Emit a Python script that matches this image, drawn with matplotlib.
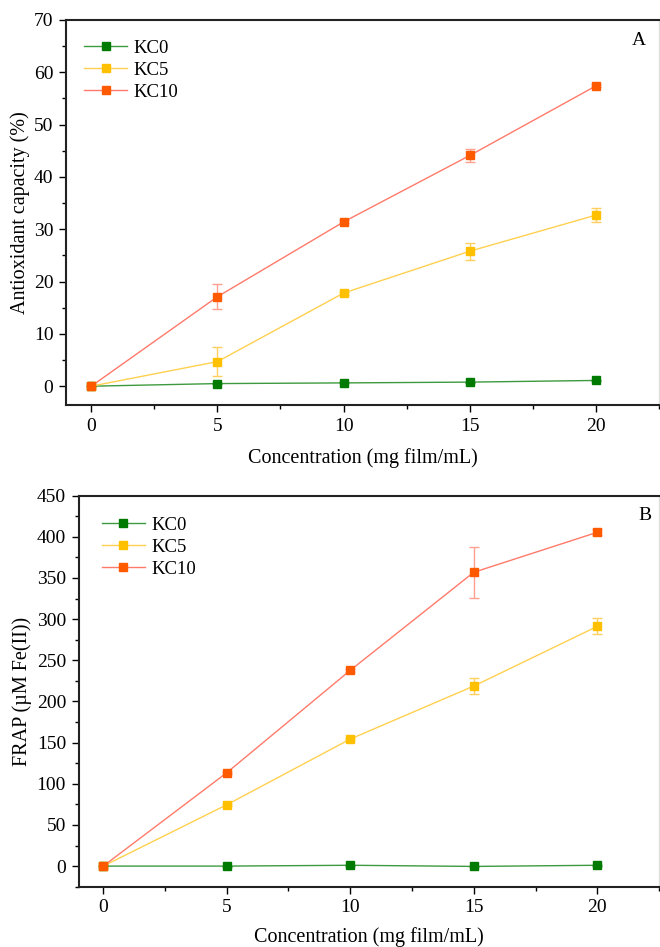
import matplotlib
matplotlib.use("Agg")
import matplotlib.pyplot as plt
from matplotlib.ticker import MultipleLocator

plt.rcParams['font.family'] = ['Liberation Serif', 'DejaVu Serif']
plt.rcParams['mathtext.fontset'] = 'stix'

conc = [0, 5, 10, 15, 20]
series = ["KC0", "KC5", "KC10"]

# Panel A: antioxidant capacity (%)
a_kc0 = [0.0, 0.5, 0.63, 0.78, 1.1]
a_kc5 = [0.0, 4.7, 17.8, 25.8, 32.7]
a_kc10 = [0.0, 17.1, 31.4, 44.1, 57.4]
a_kc0_err = [0.0, 0.1, 0.1, 0.1, 0.1]
a_kc5_err = [0.0, 2.8, 0.3, 1.6, 1.4]
a_kc10_err = [0.0, 2.4, 0.3, 1.3, 0.3]

# Panel B: FRAP (uM Fe(II))
b_kc0 = [0.0, 0.0, 1.0, -0.4, 1.0]
b_kc5 = [0.0, 74.5, 154.3, 218.7, 291.2]
b_kc10 = [0.0, 113.4, 237.8, 356.9, 405.5]
b_kc0_err = [0.0, 0.5, 0.5, 0.5, 0.5]
b_kc5_err = [0.0, 1.5, 1.5, 9.5, 9.7]
b_kc10_err = [0.0, 1.5, 1.5, 30.8, 3.5]

marker_colors = ["#007A00", "#FFC000", "#FF5A00"]
line_colors = ["#3E9A3E", "#FFD050", "#FF7A6A"]
err_colors = ["#5AAA5A", "#FFD060", "#FFA090"]

fig = plt.figure(figsize=(6.6, 9.47), dpi=100)
ax1 = fig.add_axes([0.100, 0.5723, 0.8985, 0.4066])
ax2 = fig.add_axes([0.119, 0.0637, 0.8795, 0.4129])

def draw(ax, ys, errs, ylim, ymaj, ymin, ylabel, letter, letter_pos, legend_loc, xlabelpad):
    for name, y, e, mc, lc, ec in zip(series, ys, errs, marker_colors, line_colors, err_colors):
        ax.errorbar(conc, y, yerr=e, fmt='none', ecolor=ec, elinewidth=1.0,
                    capsize=3.5, capthick=1.0, zorder=2)
        ax.plot(conc, y, color=lc, lw=1.0, marker='s', markersize=6,
                markerfacecolor=mc, markeredgecolor=mc, label=name, zorder=3)
    ax.set_xlim(-1, 22.5)
    ax.set_ylim(*ylim)
    ax.xaxis.set_major_locator(MultipleLocator(5))
    ax.xaxis.set_minor_locator(MultipleLocator(2.5))
    ax.yaxis.set_major_locator(MultipleLocator(ymaj))
    ax.yaxis.set_minor_locator(MultipleLocator(ymin))
    ax.tick_params(which='both', direction='out', labelsize=14, width=1.0)
    ax.tick_params(which='major', length=5, pad=4)
    ax.tick_params(which='minor', length=3)
    ax.tick_params(top=False, right=False)
    for s in ['left', 'bottom', 'top']:
        ax.spines[s].set_linewidth(1.5)
        ax.spines[s].set_color('#222222')
    ax.spines['right'].set_linewidth(1.0)
    ax.spines['right'].set_color('#dddddd')
    ax.set_xlabel("Concentration (mg film/mL)", fontsize=14.5, labelpad=xlabelpad)
    ax.set_ylabel(ylabel, fontsize=14.5, labelpad=3)
    ax.text(letter_pos[0], letter_pos[1], letter, transform=ax.transAxes, fontsize=14,
            ha='center', va='top')
    ax.legend(loc='upper left', bbox_to_anchor=legend_loc, frameon=False,
              fontsize=13.5, handlelength=2.3, handletextpad=0.35,
              labelspacing=0.25, borderaxespad=0)

draw(ax1, [a_kc0, a_kc5, a_kc10], [a_kc0_err, a_kc5_err, a_kc10_err],
     (-3.6, 70), 10, 5, "Antioxidant capacity (%)", "A", (0.966, 0.97),
     (0.018, 0.968), 10)
draw(ax2, [b_kc0, b_kc5, b_kc10], [b_kc0_err, b_kc5_err, b_kc10_err],
     (-25, 450), 50, 25, "FRAP (\u00b5M Fe(II))", "B", (0.975, 0.97),
     (0.027, 0.965), 8)

fig.savefig("out.png", dpi=100)
